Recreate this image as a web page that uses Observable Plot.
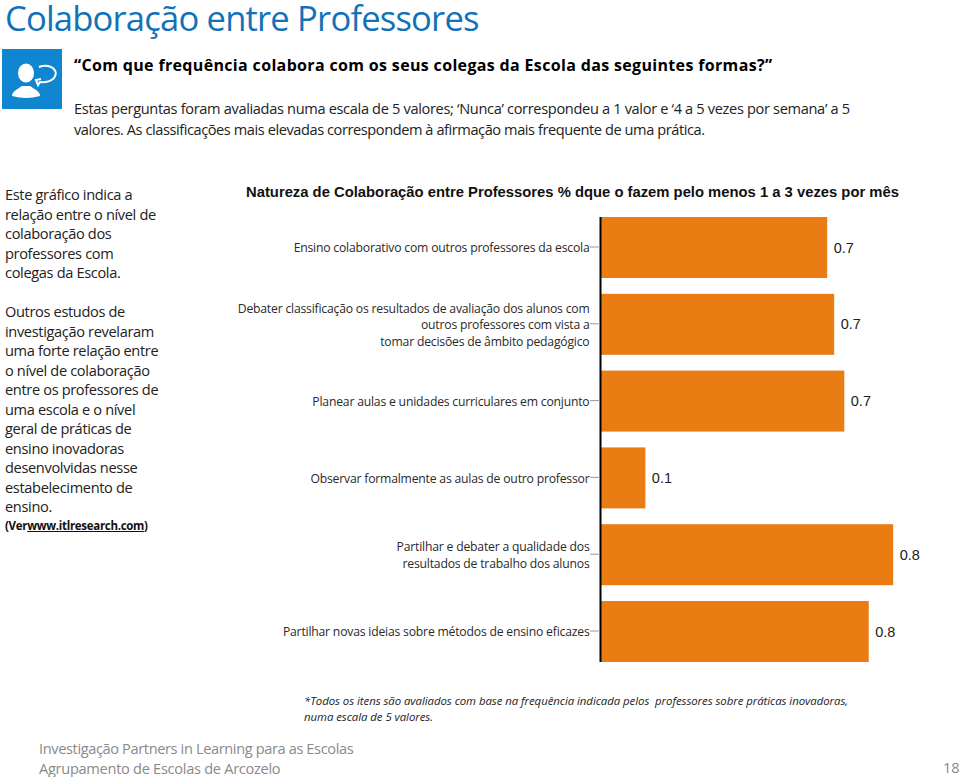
<!DOCTYPE html>
<html lang="pt">
<head>
<meta charset="utf-8">
<script src="https://cdn.jsdelivr.net/npm/d3@7"></script>
<script src="https://cdn.jsdelivr.net/npm/@observablehq/plot@0.6"></script>
<style>
html,body{margin:0;padding:0;background:#fff}
#page{position:relative;width:960px;height:777px;overflow:hidden;font-family:"Open Sans","Noto Sans",sans-serif;color:#222}
#page>div{position:absolute;white-space:pre;}
#chart{left:200px;top:205px}
#chart svg g[aria-label="y-axis tick label"] text{letter-spacing:-.2px}
.side{font-size:14.6px;line-height:19.55px;color:#222;letter-spacing:-.35px}
</style>
</head>
<body>
<div id="page">
  <div style="left:5px;top:0;font-size:34.6px;line-height:36px;color:#1272b8;letter-spacing:-.82px">Colaboração entre Professores</div>
  <div style="left:2px;top:49px;width:60px;height:60px;background:#0f86cf"><svg style="display:block" width="60" height="60" viewBox="0 0 60 60"><ellipse cx="24" cy="24" rx="8" ry="9.5" fill="#fff"/><path d="M10 47c0-5 6-7 10-10h8c4 3 10 5 10 10q-14 4-28 0z" fill="#fff"/><path d="M37 18q5-2 9-1c8 2 10 8 5 13q-5 4-13 3l-2 3-2-5 5-1" fill="none" stroke="#fff" stroke-width="2"/></svg></div>
  <div style="left:74px;top:53px;font-size:16px;line-height:24px;font-weight:700;color:#000;letter-spacing:.34px">“Com que frequência colabora com os seus colegas da Escola das seguintes formas?”</div>
  <div style="left:74px;top:98px;font-size:14.6px;line-height:21px;color:#222;letter-spacing:-.34px">Estas perguntas foram avaliadas numa escala de 5 valores; ‘Nunca’ correspondeu a 1 valor e ‘4 a 5 vezes por semana’ a 5
<span style="letter-spacing:-.43px">valores. As classificações mais elevadas correspondem à afirmação mais frequente de uma prática.</span></div>
  <div class="side" style="left:5px;top:185px">Este gráfico indica a
relação entre o nível de
colaboração dos
professores com
colegas da Escola.</div>
  <div class="side" style="left:5px;top:302px">Outros estudos de
investigação revelaram
uma forte relação entre
o nível de colaboração
entre os professores de
uma escola e o nível
geral de práticas de
ensino inovadoras
desenvolvidas nesse
estabelecimento de
ensino.</div>
  <div style="left:5px;top:517px;font-size:11.5px;line-height:17px;font-weight:700;color:#111;letter-spacing:-.3px">(Ver<u>www.itlresearch.com</u>)</div>
  <div style="left:246px;top:183px;font-family:'Liberation Sans',Arial,sans-serif;font-size:14.8px;line-height:18px;font-weight:700;color:#111">Natureza de Colaboração entre Professores % dque o fazem pelo menos 1 a 3 vezes por mês</div>
  <div id="chart"></div>
  <div style="left:304px;top:693px;font-size:11.4px;line-height:16px;font-style:italic;color:#222;letter-spacing:-.05px">*Todos os itens são avaliados com base na frequência indicada pelos  professores sobre práticas inovadoras,
numa escala de 5 valores.</div>
  <div style="left:39px;top:738px;font-size:14.6px;line-height:20px;color:#8a8a8a;letter-spacing:-.38px">Investigação Partners in Learning para as Escolas
<span style="letter-spacing:-.29px">Agrupamento de Escolas de Arcozelo</span></div>
  <div style="left:943px;top:757px;font-size:14.6px;line-height:20px;color:#8a8a8a">18</div>
</div>
<script>
const categories = [
  "Ensino colaborativo com outros professores da escola",
  "Debater classificação os resultados de avaliação dos alunos com\noutros professores com vista a\ntomar decisões de âmbito pedagógico",
  "Planear aulas e unidades curriculares em conjunto",
  "Observar formalmente as aulas de outro professor",
  "Partilhar e debater a qualidade dos\nresultados de trabalho dos alunos",
  "Partilhar novas ideias sobre métodos de ensino eficazes"
];
const values = [0.651, 0.671, 0.70, 0.13, 0.84, 0.77];
const table = categories.map((category, i) => ({category, value: values[i]}));
const fmt = d3.format(".1f");

const plot = Plot.plot({
  width: 760,
  height: 470,
  marginLeft: 400,
  marginRight: 11,
  marginTop: 12,
  marginBottom: 13,
  style: {background: "transparent", overflow: "visible"},
  x: {domain: [0, 1], axis: null},
  y: {domain: categories, paddingInner: 0.206, paddingOuter: 0, round: false, label: null},
  marks: [
    Plot.barX(table, {x: "value", y: "category", fill: "#e97c13"}),
    Plot.ruleX([0], {stroke: "#000", strokeWidth: 2}),
    Plot.axisY({
      tickSize: 10,
      tickPadding: 1,
      stroke: "#999",
      color: "#2a2a2a",
      fontSize: 12.2,
      lineHeight: 1.35,
      dy: -1,
      fontFamily: "'Open Sans','Noto Sans',sans-serif",
      tickFormat: d => d,
      textOverflow: null,
      lineWidth: Infinity
    }),
    Plot.text(table, {
      x: "value", y: "category", text: d => fmt(d.value),
      textAnchor: "start", dx: 6,
      fill: "#222", fontSize: 14.5,
      fontFamily: "'Liberation Sans',Arial,sans-serif"
    })
  ]
});
document.getElementById("chart").append(plot);
</script>
</body>
</html>
